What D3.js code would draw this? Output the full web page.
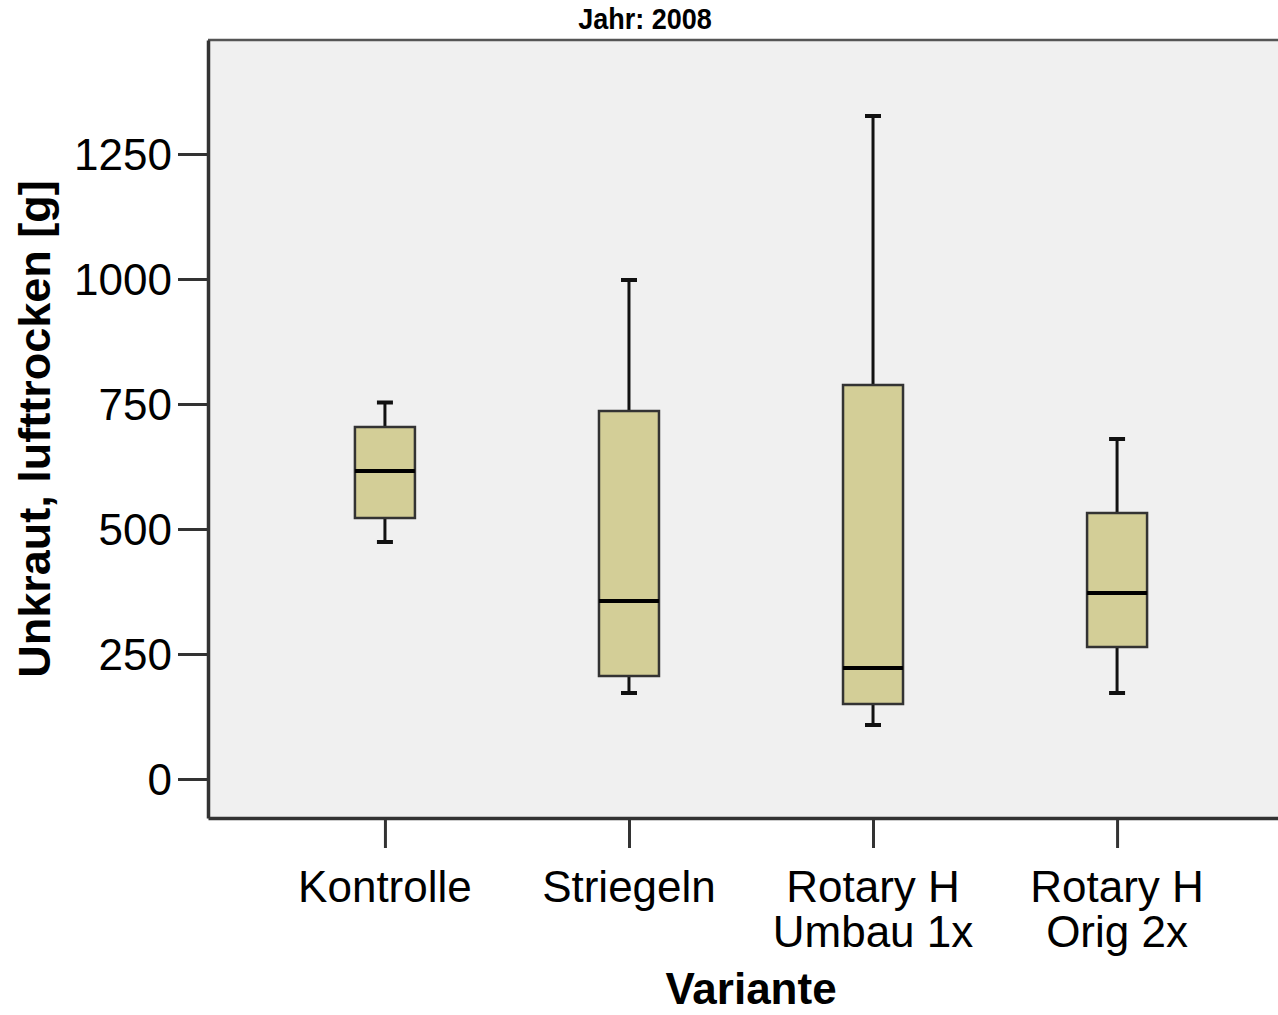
<!DOCTYPE html>
<html>
<head>
<meta charset="utf-8">
<script src="https://cdn.jsdelivr.net/npm/d3@7"></script>
<style>
  html, body { margin: 0; padding: 0; background: #fff; }
  svg { display: block; }
  text { font-family: "Liberation Sans", Arial, sans-serif; fill: #000; }
</style>
</head>
<body>
<svg id="chart" width="1278" height="1015"></svg>
<script>
// Weed dry mass per treatment variant, year 2008 (box plot statistics, g)
const categories = ["Kontrolle", "Striegeln", "Rotary H\nUmbau 1x", "Rotary H\nOrig 2x"];
const whiskerLow  = [474, 172, 108, 172];
const q1          = [522, 206, 150, 264];
const median      = [616, 356, 222, 372];
const q3          = [704, 736, 788, 532];
const whiskerHigh = [753, 998, 1326, 680];
const yTicks      = [0, 250, 500, 750, 1000, 1250];

const svg = d3.select("#chart");

// Plot frame (extends past the right edge of the window)
const plotLeft = 208, plotRight = 1294, plotTop = 40, plotBottom = 818;

const x = d3.scalePoint()
  .domain(categories)
  .range([plotLeft, plotRight])
  .padding(0.725);

const y = d3.scaleLinear()
  .domain([-78, 1478])
  .range([plotBottom, plotTop]);

// plot background
svg.append("rect")
  .attr("x", plotLeft).attr("y", plotTop)
  .attr("width", plotRight - plotLeft).attr("height", plotBottom - plotTop)
  .attr("fill", "#f0f0f0");

// top border
svg.append("line")
  .attr("x1", plotLeft).attr("x2", plotRight)
  .attr("y1", plotTop).attr("y2", plotTop)
  .attr("stroke", "#555").attr("stroke-width", 2.5);

// y axis
const yAxis = d3.axisLeft(y)
  .tickValues(yTicks)
  .tickSize(30)
  .tickSizeOuter(0)
  .tickPadding(6)
  .tickFormat(d3.format("d"));

const gy = svg.append("g")
  .attr("transform", `translate(${plotLeft},0)`)
  .call(yAxis);
gy.select(".domain").attr("stroke", "#333").attr("stroke-width", 3.5);
gy.selectAll(".tick line").attr("stroke", "#333").attr("stroke-width", 3);
gy.selectAll(".tick text")
  .style("font-size", "44px")
  .attr("fill", "#000")
  .attr("dy", "0.36em");

// x axis
const xAxis = d3.axisBottom(x).tickSize(30).tickSizeOuter(0).tickFormat("");
const gx = svg.append("g")
  .attr("transform", `translate(0,${plotBottom})`)
  .call(xAxis);
gx.select(".domain").attr("stroke", "#333").attr("stroke-width", 3.5);
gx.selectAll(".tick line").attr("stroke", "#333").attr("stroke-width", 3);

// multi-line category labels
categories.forEach(c => {
  const t = svg.append("text")
    .attr("x", x(c))
    .attr("y", 902)
    .attr("text-anchor", "middle")
    .style("font-size", "44px");
  c.split("\n").forEach((line, i) => {
    t.append("tspan")
      .attr("x", x(c))
      .attr("dy", i === 0 ? 0 : 45)
      .text(line);
  });
});

// boxes
const boxW = 60, capW = 16;
const g = svg.append("g");
categories.forEach((c, i) => {
  const cx = x(c);
  // whiskers
  g.append("line")
    .attr("x1", cx).attr("x2", cx)
    .attr("y1", y(whiskerHigh[i])).attr("y2", y(q3[i]))
    .attr("stroke", "#111").attr("stroke-width", 3);
  g.append("line")
    .attr("x1", cx).attr("x2", cx)
    .attr("y1", y(q1[i])).attr("y2", y(whiskerLow[i]))
    .attr("stroke", "#111").attr("stroke-width", 3);
  [whiskerHigh[i], whiskerLow[i]].forEach(v => {
    g.append("line")
      .attr("x1", cx - capW / 2).attr("x2", cx + capW / 2)
      .attr("y1", y(v)).attr("y2", y(v))
      .attr("stroke", "#111").attr("stroke-width", 4);
  });
  // box
  g.append("rect")
    .attr("x", cx - boxW / 2)
    .attr("y", y(q3[i]))
    .attr("width", boxW)
    .attr("height", y(q1[i]) - y(q3[i]))
    .attr("fill", "#d3ce97")
    .attr("stroke", "#333")
    .attr("stroke-width", 2.5);
  // median
  g.append("line")
    .attr("x1", cx - boxW / 2).attr("x2", cx + boxW / 2)
    .attr("y1", y(median[i])).attr("y2", y(median[i]))
    .attr("stroke", "#000").attr("stroke-width", 4);
});

// title
svg.append("text")
  .attr("x", 645).attr("y", 29)
  .attr("text-anchor", "middle")
  .attr("transform", "translate(645,0) scale(0.9,1) translate(-645,0)")
  .style("font-size", "30px")
  .style("font-weight", "bold")
  .text("Jahr: 2008");

// axis titles
svg.append("text")
  .attr("transform", `translate(50,${(plotTop + plotBottom) / 2}) rotate(-90)`)
  .attr("text-anchor", "middle")
  .style("font-size", "45px")
  .style("font-weight", "bold")
  .text("Unkraut, lufttrocken [g]");

svg.append("text")
  .attr("x", (plotLeft + plotRight) / 2)
  .attr("y", 1004)
  .attr("text-anchor", "middle")
  .style("font-size", "44px")
  .style("font-weight", "bold")
  .text("Variante");
</script>
</body>
</html>
